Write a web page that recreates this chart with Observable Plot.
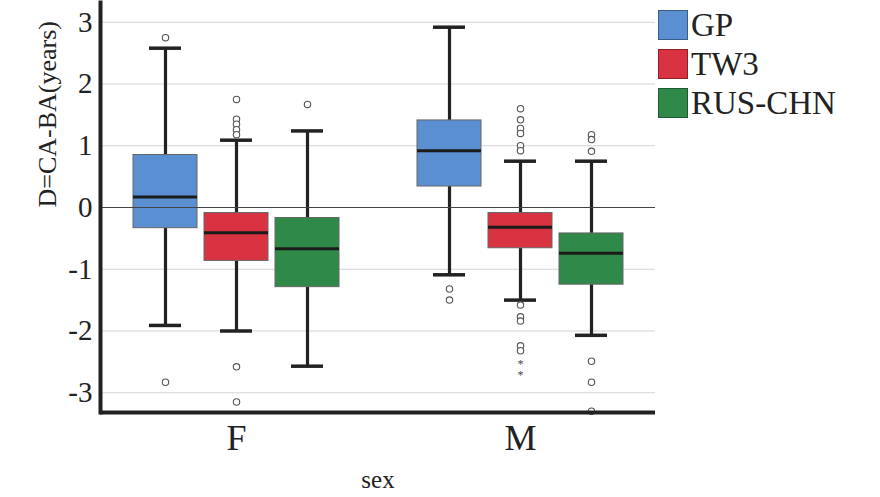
<!DOCTYPE html>
<html><head><meta charset="utf-8">
<script src="https://cdn.jsdelivr.net/npm/d3@7"></script>
<script src="https://cdn.jsdelivr.net/npm/@observablehq/plot@0.6"></script>
<style>
body{margin:0;background:#fff;}
#wrap{position:relative;width:880px;height:497px;font-family:"Liberation Serif","Times New Roman",serif;}
#legend{position:absolute;left:658px;top:5px;}
.row{display:flex;align-items:center;height:39px;}
.sw{width:30px;height:30px;box-sizing:border-box;border:1px solid rgba(0,0,0,0.35);margin-right:3px;}
.lab{font-size:33px;color:#222;line-height:30px;}
</style></head>
<body><div id="wrap"><div id="legend"></div></div>
<script>
const sexes = ["F", "M"];
const methods = ["GP", "TW3", "RUS-CHN"];
const methodColors = ["#5a8fd2", "#d93341", "#2f8a49"];
// order: F-GP, F-TW3, F-RUS-CHN, M-GP, M-TW3, M-RUS-CHN
const whiskerLow  = [-1.91, -2.00, -2.57, -1.09, -1.50, -2.07];
const q1          = [-0.335, -0.865, -1.29, 0.34, -0.66, -1.25];
const median      = [0.17, -0.41, -0.67, 0.92, -0.32, -0.74];
const q3          = [0.85, -0.09, -0.17, 1.41, -0.09, -0.42];
const whiskerHigh = [2.58, 1.09, 1.24, 2.92, 0.75, 0.75];
const outliers = [
  [2.75, -2.83],
  [1.75, 1.43, 1.35, 1.26, 1.18, -2.58, -3.15],
  [1.67],
  [-1.32, -1.50],
  [1.60, 1.42, 1.28, 1.20, 1.00, 0.92, -1.58, -1.77, -1.84, -2.24, -2.32],
  [1.18, 1.10, 0.91, -2.49, -2.83, -3.30]
];
const extremes = [[], [], [], [], [-2.49, -2.67], []];
const yTicks = [-3, -2, -1, 0, 1, 2, 3];
const yLabel = "D=CA-BA(years)";
const xLabel = "sex";

const groups = [];
sexes.forEach(s => methods.forEach(m => groups.push({sex: s, method: m, key: s + "|" + m})));
const keys = [];
sexes.forEach((s, i) => { if (i > 0) keys.push("gap"); methods.forEach(m => keys.push(s + "|" + m)); });

const boxes = groups.map((g, i) => ({...g, low: whiskerLow[i], q1: q1[i], median: median[i], q3: q3[i], high: whiskerHigh[i]}));
const outs = groups.flatMap((g, i) => outliers[i].map(v => ({...g, value: v})));
const ext = groups.flatMap((g, i) => extremes[i].map(v => ({...g, value: v})));

const serif = "'Liberation Serif', 'Times New Roman', serif";
const ymin = -3.32, ymax = 3.32;
const plot = Plot.plot({
  width: 880, height: 497,
  marginLeft: 100, marginRight: 225, marginTop: 2, marginBottom: 85,
  style: {fontFamily: serif, color: "#222", background: "transparent"},
  x: {type: "band", domain: keys, paddingInner: 0.1, paddingOuter: 0.4267},
  y: {domain: [ymin, ymax]},
  color: {domain: methods, range: methodColors},
  marks: [
    Plot.ruleY(yTicks, {stroke: "#d4d4d4", strokeWidth: 1.2}),
    Plot.ruleX(boxes, {x: "key", y1: "q3", y2: "high", stroke: "#222", strokeWidth: 3.2}),
    Plot.ruleX(boxes, {x: "key", y1: "q1", y2: "low", stroke: "#222", strokeWidth: 3.2}),
    Plot.barY(boxes, {x: "key", y1: "q1", y2: "q3", fill: "method", stroke: "#666", strokeWidth: 1}),
    Plot.ruleY([0], {stroke: "#444", strokeWidth: 1.2}),
    Plot.tickY(boxes, {x: "key", y: "median", stroke: "#1b1b1b", strokeWidth: 3}),
    Plot.tickY(boxes, {x: "key", y: "high", stroke: "#222", strokeWidth: 3.5, insetLeft: 16, insetRight: 16}),
    Plot.tickY(boxes, {x: "key", y: "low", stroke: "#222", strokeWidth: 3.5, insetLeft: 16, insetRight: 16}),
    Plot.dot(outs, {x: "key", y: "value", r: 3.2, stroke: "#555", strokeWidth: 1.1, fill: "white"}),
    Plot.text(ext, {x: "key", y: "value", text: () => "*", fontSize: 12, fill: "#444", dy: 3, fontFamily: serif}),
    Plot.axisY({ticks: yTicks, tickSize: 0, tickPadding: 8, fontSize: 29, fontFamily: serif, tickFormat: d => String(d), label: null}),
    Plot.axisX({ticks: [sexes[0] + "|TW3", sexes[1] + "|TW3"], tickFormat: d => d.split("|")[0],
      tickSize: 0, tickPadding: 12, fontSize: 36, fontFamily: serif, label: null}),
    Plot.text([yLabel], {frameAnchor: "left", rotate: -90, dx: -53, fontSize: 26, fontFamily: serif, fill: "#222"}),
    Plot.text([xLabel], {frameAnchor: "bottom", dy: 75, fontSize: 25, fontFamily: serif, fill: "#222"}),
    Plot.ruleY([ymin], {stroke: "#222", strokeWidth: 4}),
    Plot.frame({anchor: "left", stroke: "#222", strokeWidth: 4})
  ]
});
document.getElementById("wrap").prepend(plot);
const lg = document.getElementById("legend");
methods.forEach((m, i) => {
  const r = document.createElement("div"); r.className = "row";
  r.innerHTML = `<div class="sw" style="background:${methodColors[i]}"></div><span class="lab">${m}</span>`;
  lg.appendChild(r);
});
</script></body></html>
